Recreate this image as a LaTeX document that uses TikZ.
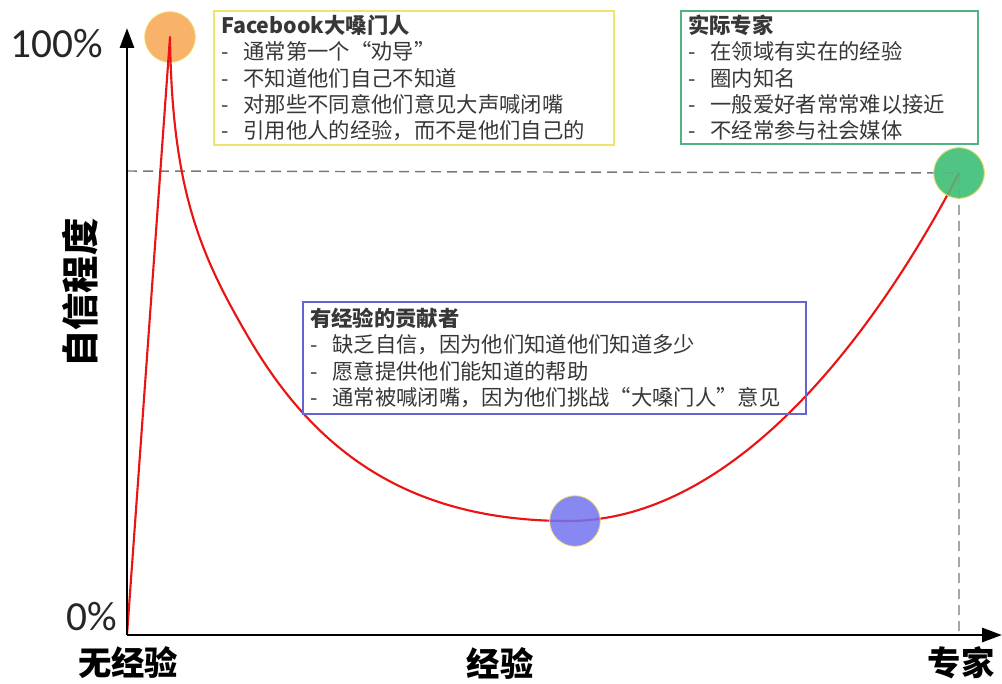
\documentclass[tikz,border=0pt]{standalone}
\usepackage{fontspec}
\usetikzlibrary{arrows.meta}
\newfontfamily\cjk{Noto Sans CJK SC}
\newfontfamily\lab{Carlito}
\definecolor{ybox}{RGB}{240,228,110}
\definecolor{gbox}{RGB}{80,180,130}
\definecolor{bbox}{RGB}{100,100,210}
\definecolor{txt}{RGB}{55,55,55}
\definecolor{ofill}{RGB}{248,178,106}
\definecolor{gfill}{RGB}{80,196,130}
\definecolor{bfill}{RGB}{115,115,240}
\definecolor{rim}{RGB}{240,225,120}
\definecolor{curve}{RGB}{235,20,20}
\definecolor{dgray}{RGB}{120,120,120}
\newcommand{\dd}{-\hspace{0.7em}}
\begin{document}
\begin{tikzpicture}[x=0.75pt,y=-0.75pt,
  box/.style={draw, line width=1.4pt, anchor=north west, align=left,
    inner xsep=5.5pt, inner ysep=2pt, text=txt,
    font=\cjk\fontsize{16}{19.6}\selectfont},
  dot/.style={circle, minimum size=38pt, inner sep=0pt, draw=rim, line width=0.6pt},
  axisline/.style={line width=2.2pt, -{Triangle[length=15pt,width=10.5pt]}},
  guide/.style={dgray, line width=1.1pt, dash pattern=on 7.5pt off 4.5pt},
  redcurve/.style={curve, line width=1.6pt, line join=round},
  pct/.style={font=\lab\fontsize{31}{34}\selectfont, text=black!85},
  axlab/.style={font=\cjk\bfseries\fontsize{25}{28}\selectfont, text=black}]
\useasboundingbox (0,0) rectangle (1002,684);

% coordinates
\coordinate (O) at (127,635);
\coordinate (ytip) at (127,28);
\coordinate (xtip) at (1002,635);
\coordinate (hstart) at (127,171);
\coordinate (vend) at (959,635);
\coordinate (knee) at (250,340);
\coordinate (low) at (568,521);

% guides
\node[dot, fill=gfill] (expert) at (959,173) {};
\draw[guide] (hstart) -- (expert.center) -- (vend);

% peak circle (behind curve)
\node[dot, fill=ofill] (peak) at (170,37) {};

% red curve
\draw[redcurve] (O) -- (peak.center)
  .. controls (172,190) and (200,255) .. (knee)
  .. controls (311,443) and (400,521) .. (low)
  .. controls (765,521) and (913,262) .. (expert.center);

% translucent circles over curve
\node[dot, fill=gfill, fill opacity=0.8] (expert2) at (959,173) {};
\node[dot, fill=bfill, fill opacity=0.85] (mid) at (575,521) {};

% axes
\draw[axisline] (O) -- (ytip);
\draw[axisline] (O) -- (xtip);

% axis labels
\node[pct] (p100) at (57,44) {100\%};
\node[pct] (p0) at (92,617) {0\%};
\node[axlab] (lnone) at (128,663) {无经验};
\node[axlab] (lexp) at (500,663) {经验};
\node[axlab] (lpro) at (961,663) {专家};
\node[axlab, rotate=90, font=\cjk\bfseries\fontsize{28}{30}\selectfont] (ylab) at (80,293) {自信程度};

% boxes
\node[box, draw=ybox, text width=289pt, minimum height=100.5pt] (fb) at (213,10)
  {\textbf{Facebook大嗓门人}\\
   \dd 通常第一个“劝导”\\
   \dd 不知道他们自己不知道\\
   \dd 对那些不同意他们意见大声喊闭嘴\\
   \dd 引用他人的经验，而不是他们自己的};
\node[box, draw=gbox, text width=211.5pt, minimum height=100pt] (pro) at (680,10)
  {\textbf{实际专家}\\
   \dd 在领域有实在的经验\\
   \dd 圈内知名\\
   \dd 一般爱好者常常难以接近\\
   \dd 不经常参与社会媒体};
\node[box, draw=bbox, text width=366pt, minimum height=84pt] (contrib) at (302,301)
  {\textbf{有经验的贡献者}\\
   \dd 缺乏自信，因为他们知道他们知道多少\\
   \dd 愿意提供他们能知道的帮助\\
   \dd 通常被喊闭嘴，因为他们挑战“大嗓门人”意见};
\end{tikzpicture}
\end{document}
